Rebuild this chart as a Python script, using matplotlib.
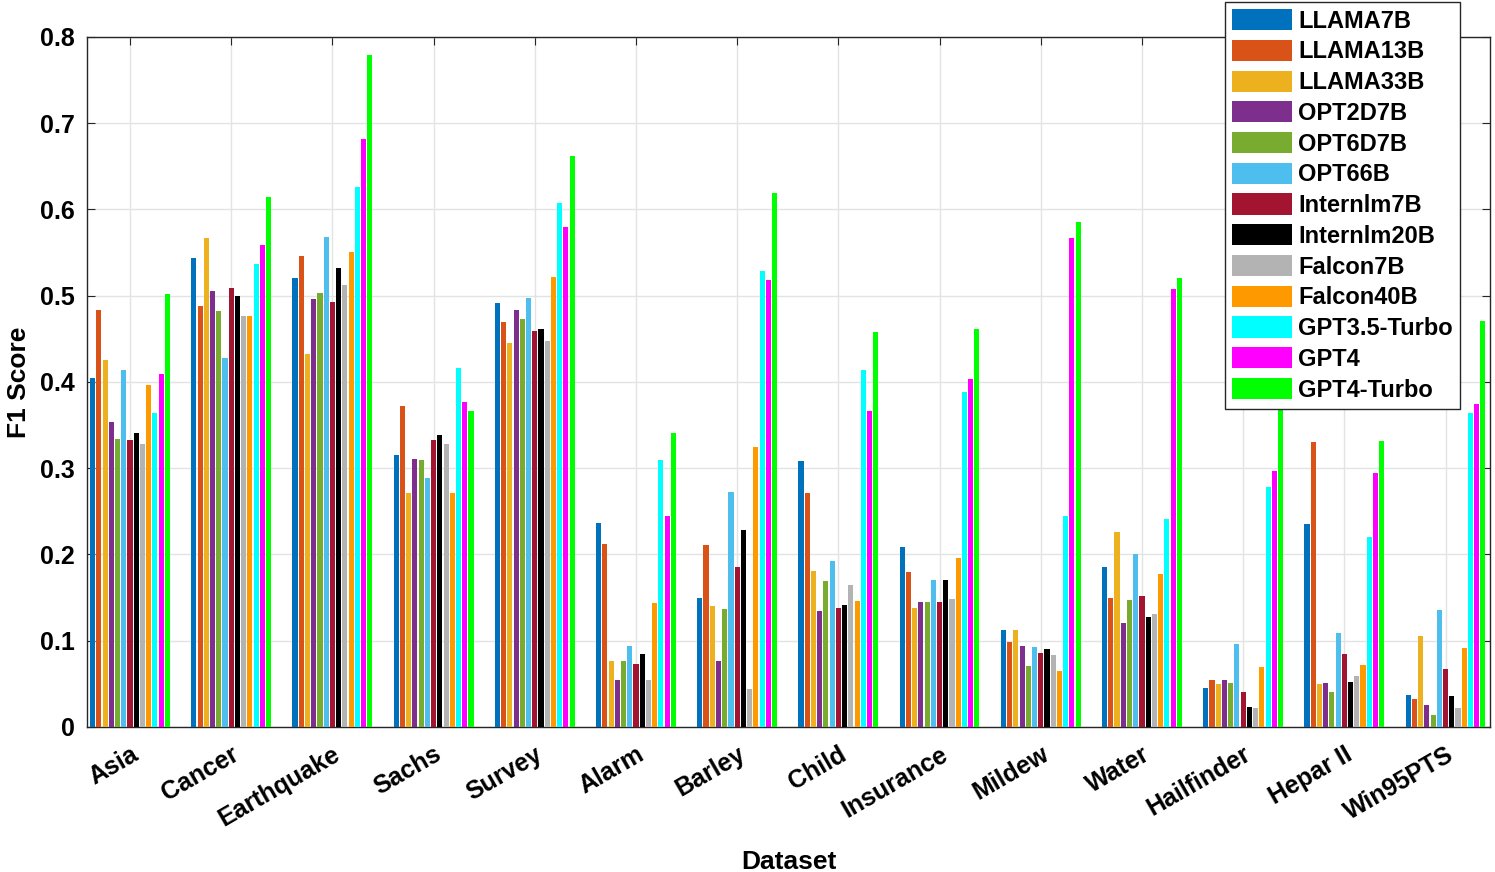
import numpy as np
import matplotlib
matplotlib.use('Agg')
import matplotlib.pyplot as plt

plt.rcParams['font.family'] = ['Liberation Sans', 'DejaVu Sans']

datasets = ['Asia', 'Cancer', 'Earthquake', 'Sachs', 'Survey', 'Alarm', 'Barley',
            'Child', 'Insurance', 'Mildew', 'Water', 'Hailfinder', 'Hepar II', 'Win95PTS']
models = ['LLAMA7B', 'LLAMA13B', 'LLAMA33B', 'OPT2D7B', 'OPT6D7B', 'OPT66B',
          'Internlm7B', 'Internlm20B', 'Falcon7B', 'Falcon40B', 'GPT3.5-Turbo',
          'GPT4', 'GPT4-Turbo']
colors = ['#0072BD', '#D95319', '#EDB120', '#7E2F8E', '#77AC30', '#4DBEEE',
          '#A2142F', '#000000', '#B3B3B3', '#FF9900', '#00FFFF', '#FF00FF', '#00FF00']

# F1 scores, one row per dataset, columns follow `models`
asia       = [0.405, 0.484, 0.426, 0.354, 0.334, 0.414, 0.333, 0.341, 0.328, 0.397, 0.364, 0.409, 0.502]
cancer     = [0.544, 0.488, 0.567, 0.505, 0.482, 0.428, 0.509, 0.500, 0.477, 0.476, 0.537, 0.559, 0.615]
earthquake = [0.520, 0.546, 0.432, 0.496, 0.503, 0.568, 0.493, 0.532, 0.512, 0.551, 0.626, 0.682, 0.779]
sachs      = [0.315, 0.372, 0.271, 0.311, 0.310, 0.289, 0.333, 0.338, 0.328, 0.271, 0.416, 0.377, 0.366]
survey     = [0.492, 0.469, 0.445, 0.483, 0.473, 0.497, 0.459, 0.462, 0.447, 0.522, 0.608, 0.580, 0.662]
alarm      = [0.237, 0.212, 0.076, 0.054, 0.077, 0.094, 0.073, 0.085, 0.054, 0.144, 0.310, 0.245, 0.341]
barley     = [0.150, 0.211, 0.140, 0.076, 0.137, 0.272, 0.185, 0.228, 0.044, 0.325, 0.529, 0.518, 0.619]
child      = [0.308, 0.271, 0.181, 0.134, 0.169, 0.192, 0.138, 0.142, 0.165, 0.146, 0.414, 0.366, 0.458]
insurance  = [0.209, 0.180, 0.138, 0.145, 0.145, 0.170, 0.145, 0.170, 0.148, 0.196, 0.388, 0.403, 0.461]
mildew     = [0.113, 0.099, 0.113, 0.094, 0.071, 0.093, 0.086, 0.090, 0.083, 0.065, 0.245, 0.567, 0.585]
water      = [0.186, 0.149, 0.226, 0.121, 0.147, 0.201, 0.152, 0.128, 0.131, 0.177, 0.241, 0.508, 0.520]
hailfinder = [0.045, 0.054, 0.050, 0.054, 0.051, 0.096, 0.040, 0.023, 0.022, 0.069, 0.278, 0.297, 0.440]
hepar2     = [0.235, 0.330, 0.050, 0.051, 0.041, 0.109, 0.085, 0.052, 0.059, 0.072, 0.220, 0.294, 0.331]
win95pts   = [0.037, 0.033, 0.105, 0.026, 0.014, 0.136, 0.067, 0.036, 0.022, 0.091, 0.364, 0.374, 0.471]

scores = np.array([asia, cancer, earthquake, sachs, survey, alarm, barley, child,
                   insurance, mildew, water, hailfinder, hepar2, win95pts])

fig = plt.figure(figsize=(14.95, 8.72), dpi=100)
ax = fig.add_axes([0.0582, 0.1663, 0.9385, 0.7913])

x = np.arange(1, len(datasets) + 1)
n = len(models)
slot = 0.8 / n
for i, m in enumerate(models):
    ax.bar(x + (i - (n - 1) / 2) * slot, scores[:, i], width=slot * 0.82,
           color=colors[i], label=m, zorder=3)

ax.set_xlim(0.575, 14.44)
ax.set_ylim(0, 0.8)
ax.set_yticks(np.arange(0, 0.81, 0.1))
ax.set_yticklabels(['0'] + ['%.1f' % v for v in np.arange(0.1, 0.81, 0.1)],
                   fontsize=18, fontweight='bold')
ax.set_xticks(x)
ax.set_xticklabels(datasets, fontsize=18, fontweight='bold', rotation=30,
                   ha='right', va='top', rotation_mode='anchor')
ax.tick_params(direction='in', length=6, color='#262626', top=True, right=True, pad=9)
ax.tick_params(axis='x', pad=11)
ax.grid(True, color='#e3e3e3', linewidth=1, zorder=0)
ax.set_axisbelow(True)
for s in ax.spines.values():
    s.set_color('#262626')
    s.set_linewidth(1)

ax.set_xlabel('Dataset', fontsize=19, fontweight='bold', labelpad=14)
ax.set_ylabel('F1 Score', fontsize=19, fontweight='bold', labelpad=6)

leg = ax.legend(loc='upper left', bbox_to_anchor=(1225 / 1495, 1 - 2 / 872),
                bbox_transform=fig.transFigure, prop={'weight': 'bold', 'size': 17},
                fancybox=False, edgecolor='#262626', framealpha=1,
                handlelength=2.55, handleheight=1.0, handletextpad=0.25,
                labelspacing=0.3, borderpad=0.3, borderaxespad=0)
leg.get_frame().set_linewidth(1)
leg.set_zorder(10)

fig.savefig('out.png', dpi=100)
